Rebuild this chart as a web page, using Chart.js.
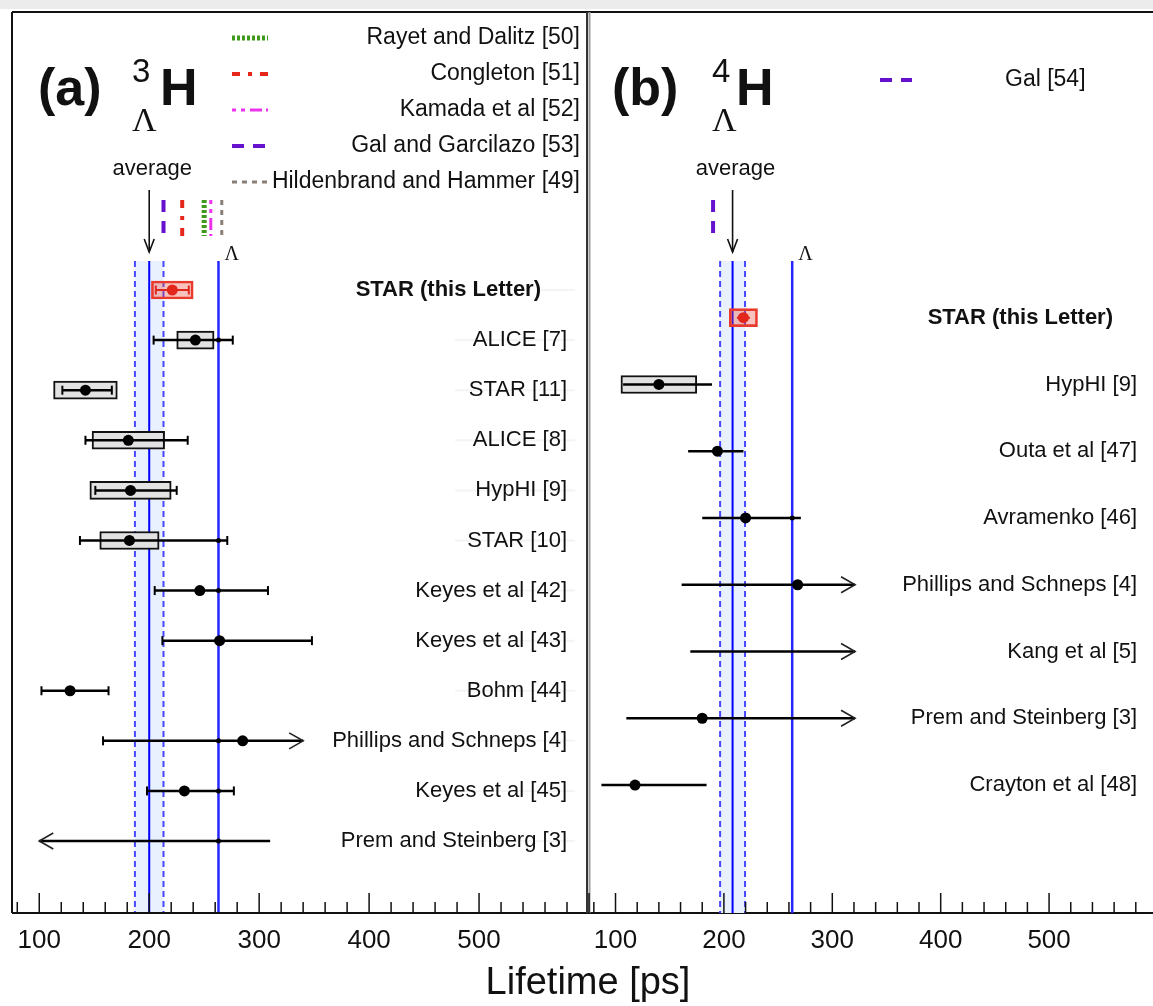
<!DOCTYPE html>
<html>
<head>
<meta charset="utf-8">
<script src="https://cdn.jsdelivr.net/npm/chart.js@4.4.1/dist/chart.umd.min.js"></script>
<style>
  body { margin: 0; background: #fff; width: 1153px; height: 1006px; overflow: hidden; position: relative; }
  canvas { position: absolute; top: 0; }
  #pa { left: 0; }
  #pb { left: 584px; }
</style>
</head>
<body>
<canvas id="pa" width="1153" height="1006"></canvas>
<canvas id="pb" width="569" height="1006"></canvas>
<script>
// free Lambda lifetime (ps)
const lambdaTau = 263;
const tickLabels = [100, 200, 300, 400, 500];

// (a) hypertriton lifetimes [ps]
const labelsA = ['STAR (this Letter)', 'ALICE [7]', 'STAR [11]', 'ALICE [8]', 'HypHI [9]', 'STAR [10]',
  'Keyes et al [42]', 'Keyes et al [43]', 'Bohm [44]', 'Phillips and Schneps [4]', 'Keyes et al [45]', 'Prem and Steinberg [3]'];
const tauA    = [221, 242, 142, 181, 183, 182, 246, 264, 128, 285, 232, null];
const statLoA = [206, 204, 121, 142, 151, 137, 205, 212, 102, 158, 198, 100];
const statHiA = [236, 276, 166, 235, 225, 271, 308, 348, 163, 340, 277, 310];
const sysLoA  = [202, 225, 113, 148, 146, 155, null, null, null, null, null, null];
const sysHiA  = [240, 259, 171, 214, 220, 209, null, null, null, null, null, null];
const arrowA  = ['', '', '', '', '', '', '', '', '', 'hi', '', 'lo'];
const capsA   = [1, 1, 1, 1, 1, 1, 1, 1, 1, 1, 1, 0];
const lambdaDotRowsA = [1, 5, 6, 9, 10, 11];
const averageA = 200, averageErrA = 13;
const theoryNamesA = ['Rayet and Dalitz [50]', 'Congleton [51]', 'Kamada et al [52]', 'Gal and Garcilazo [53]', 'Hildenbrand and Hammer [49]'];
const theoryTauA = [250, 230, 256, 213, 266];

// (b) 4ΛH lifetimes [ps]
const labelsB = ['STAR (this Letter)', 'HypHI [9]', 'Outa et al [47]', 'Avramenko [46]',
  'Phillips and Schneps [4]', 'Kang et al [5]', 'Prem and Steinberg [3]', 'Crayton et al [48]'];
const tauB    = [218, 140, 194, 220, 268, null, 180, 118];
const statLoB = [212, 107, 167, 180, 161, 169, 110, 87];
const statHiB = [224, 189, 218, 271, 321, 321, 321, 184];
const sysLoB  = [205, 105, null, null, null, null, null, null];
const sysHiB  = [231, 175, null, null, null, null, null, null];
const arrowB  = ['', '', '', '', 'hi', 'hi', 'hi', ''];
const capsB   = [0, 0, 0, 0, 0, 0, 0, 0];
const lambdaDotRowsB = [3];
const averageB = 208, averageErrB = 11.5;
const theoryNamesB = ['Gal [54]'];
const theoryTauB = [190];

const FONT = "'Liberation Sans', Arial, Helvetica, sans-serif";
const SERIF = "'Liberation Serif', 'Times New Roman', serif";

const theoryStyleA = [
  { color: '#3f9a1c', width: 5, dash: [3, 2] },
  { color: '#e5261b', width: 4, dash: [8, 8, 4, 8] },
  { color: '#ee33ee', width: 3, dash: [4, 5, 4, 5, 12, 4] },
  { color: '#6611cc', width: 4, dash: [12, 9] },
  { color: '#8a7f76', width: 3, dash: [5, 5] }
];
const theoryStyleB = [{ color: '#6611cc', width: 4, dash: [12, 9] }];

function vline(ctx, x, y0, y1) {
  ctx.beginPath(); ctx.moveTo(x, y0); ctx.lineTo(x, y1); ctx.stroke();
}
function hline(ctx, x0, x1, y) {
  ctx.beginPath(); ctx.moveTo(x0, y); ctx.lineTo(x1, y); ctx.stroke();
}

function panelPlugin(p) {
  return {
    id: 'panel_' + p.id,
    beforeDraw(chart) {
      if (!p.outerFrame) return;
      const ctx = chart.ctx;
      ctx.save();
      ctx.fillStyle = '#ececec';
      ctx.fillRect(0, 0, chart.width, 9);
      ctx.restore();
    },
    beforeDatasetsDraw(chart) {
      const { ctx, chartArea: a, scales: { x } } = chart;
      const top = 261;
      const xl = x.getPixelForValue(p.avg - p.avgErr), xh = x.getPixelForValue(p.avg + p.avgErr);
      ctx.save();
      ctx.fillStyle = '#e8f1fd';
      ctx.fillRect(xl, top, xh - xl, a.bottom - top);
      ctx.strokeStyle = '#4747ff'; ctx.lineWidth = 2; ctx.setLineDash([6, 4]);
      vline(ctx, xl, top, a.bottom); vline(ctx, xh, top, a.bottom);
      ctx.setLineDash([]);
      ctx.strokeStyle = '#0000ff'; ctx.lineWidth = 2;
      vline(ctx, x.getPixelForValue(p.avg), top, a.bottom);
      ctx.strokeStyle = '#2626ff'; ctx.lineWidth = 2.5;
      vline(ctx, x.getPixelForValue(lambdaTau), top, a.bottom);
      ctx.restore();
    },
    afterDatasetsDraw(chart) {
      const { ctx, scales: { x, y } } = chart;
      ctx.save();
      ctx.strokeStyle = '#222'; ctx.lineWidth = 1.6;
      p.arrows.forEach((dir, i) => {
        if (!dir) return;
        const yy = y.getPixelForValue(i);
        const tip = x.getPixelForValue(dir === 'hi' ? p.hi[i] : p.lo[i]);
        const s = dir === 'hi' ? -1 : 1;
        ctx.beginPath();
        ctx.moveTo(tip + s * 14, yy - 8); ctx.lineTo(tip, yy); ctx.lineTo(tip + s * 14, yy + 8);
        ctx.stroke();
      });
      ctx.restore();
    },
    afterDraw(chart) {
      const { ctx, chartArea: a, scales: { x, y } } = chart;
      ctx.save();
      // frame and axis
      ctx.strokeStyle = '#111'; ctx.lineWidth = 2;
      if (p.outerFrame) {
        hline(ctx, 12, chart.width, 12);
        vline(ctx, 12, 12, 913);
        hline(ctx, 12, chart.width, 913);
        ctx.strokeStyle = '#333';
        vline(ctx, 587, 12, 913);
        ctx.strokeStyle = '#9a9a9a';
        vline(ctx, 589.5, 12, 913);
      }
      // tick marks pointing up from the axis
      ctx.strokeStyle = '#111'; ctx.lineWidth = 1.5;
      for (let v = 80; v <= p.tickMax; v += 20) {
        const px = x.getPixelForValue(v);
        vline(ctx, px, a.bottom, a.bottom - (v % 100 === 0 ? 20 : 11));
      }
      ctx.fillStyle = '#111';
      ctx.font = `26px ${FONT}`;
      ctx.textAlign = 'center'; ctx.textBaseline = 'middle';
      tickLabels.forEach(t => ctx.fillText(String(t), x.getPixelForValue(t), 941));
      if (p.outerFrame) {
        ctx.font = `38px ${FONT}`;
        ctx.fillText('Lifetime [ps]', 588, 984);
      }

      // row labels
      ctx.textAlign = 'right';
      p.labels.forEach((lab, i) => {
        const yy = y.getPixelForValue(i);
        if (p.rowLines) {
          ctx.strokeStyle = '#f4f4f4'; ctx.lineWidth = 2;
          hline(ctx, i === 0 ? 541 : 455, 575, yy);
        }
        ctx.fillStyle = '#111';
        ctx.font = i === 0 ? `bold 22px ${FONT}` : `22px ${FONT}`;
        ctx.fillText(lab, i === 0 ? p.boldRight : p.labelRight, yy);
      });

      // panel title
      ctx.textAlign = 'left'; ctx.textBaseline = 'alphabetic';
      ctx.font = `bold 52px ${FONT}`;
      ctx.fillText(p.tag, p.titleX, 105);
      ctx.fillText('H', p.titleX + p.hOffset, 105);
      ctx.font = `33px ${FONT}`;
      ctx.fillText(p.massNumber, p.titleX + p.supOffset, 82);
      ctx.font = `34px ${SERIF}`;
      ctx.fillText('Λ', p.titleX + p.supOffset, 131);

      // average arrow
      const xa = x.getPixelForValue(p.avg);
      ctx.font = `22px ${FONT}`; ctx.textAlign = 'center'; ctx.textBaseline = 'middle';
      ctx.fillText('average', xa + 3, 169);
      ctx.strokeStyle = '#111'; ctx.lineWidth = 1.6;
      vline(ctx, xa, 190, 252);
      ctx.beginPath(); ctx.moveTo(xa - 5, 239); ctx.lineTo(xa, 252); ctx.lineTo(xa + 5, 239); ctx.stroke();

      // Lambda label
      ctx.font = `20px ${SERIF}`; ctx.textAlign = 'left'; ctx.textBaseline = 'alphabetic';
      ctx.fillText('Λ', x.getPixelForValue(lambdaTau) + 6, 260);

      // theory predictions and their legend
      p.theoryTau.forEach((t, i) => {
        const st = p.theoryStyle[i];
        ctx.strokeStyle = st.color; ctx.lineWidth = st.width; ctx.setLineDash(st.dash);
        vline(ctx, x.getPixelForValue(t), 200, 236);
        const ly = p.legendY[i];
        hline(ctx, p.legendX0, p.legendX1, ly);
        ctx.setLineDash([]);
        ctx.fillStyle = '#111'; ctx.font = `23px ${FONT}`;
        ctx.textBaseline = 'middle';
        ctx.textAlign = p.legendAlign;
        ctx.fillText(p.theoryNames[i], p.legendTextX, ly);
      });
      ctx.restore();
    }
  };
}

function makePanel(p) {
  const datasets = [];
  // systematic uncertainty boxes
  const boxData = [], boxFill = [], boxEdge = [];
  p.sysLo.forEach((lo, i) => {
    if (lo == null) return;
    boxData.push({ y: i, x: [lo, p.sysHi[i]] });
    boxFill.push(i === 0 ? 'rgba(235,70,55,0.33)' : '#e2e2e2');
    boxEdge.push(i === 0 ? '#e8392c' : '#111');
  });
  datasets.push({
    type: 'bar', indexAxis: 'y', order: 3, data: boxData,
    backgroundColor: boxFill, borderColor: boxEdge, borderWidth: 2,
    borderSkipped: false, barThickness: 18
  });
  // statistical uncertainties
  p.lo.forEach((lo, i) => {
    const red = i === 0, col = red ? '#e0281c' : '#000';
    const capLo = p.caps[i] && p.arrows[i] !== 'lo' ? 4.5 : 0;
    const capHi = p.caps[i] && p.arrows[i] !== 'hi' ? 4.5 : 0;
    datasets.push({
      type: 'line', order: 2, data: [{ x: lo, y: i }, { x: p.hi[i], y: i }],
      borderColor: col, borderWidth: red ? 2 : 2.5,
      pointStyle: 'line', pointRotation: 90, pointRadius: [capLo, capHi],
      pointBorderColor: col, pointBorderWidth: 2
    });
  });
  // crossings with the free Lambda line
  datasets.push({
    type: 'line', order: 1, showLine: false,
    data: p.lambdaRows.map(r => ({ x: lambdaTau, y: r })),
    pointRadius: 2.5, pointBackgroundColor: '#000', pointBorderWidth: 0
  });
  // central values
  const pts = [], ptCol = [];
  p.tau.forEach((t, i) => {
    if (t == null) return;
    pts.push({ x: t, y: i });
    ptCol.push(i === 0 ? '#e3261b' : '#000');
  });
  datasets.push({
    type: 'line', order: 0, showLine: false, data: pts,
    pointRadius: 5.5, pointBackgroundColor: ptCol, pointBorderColor: ptCol, pointBorderWidth: 0
  });

  return new Chart(document.getElementById(p.canvas), {
    type: 'line',
    data: { datasets },
    options: {
      responsive: false, animation: false, devicePixelRatio: 1, events: [],
      layout: { padding: p.pad },
      plugins: { legend: { display: false }, tooltip: { enabled: false } },
      scales: {
        x: { type: 'linear', min: p.xMin, max: p.xMax, offset: false, display: false },
        y: { type: 'linear', min: p.yMin, max: p.yMax, reverse: true, offset: false, display: false }
      }
    },
    plugins: [panelPlugin(p)]
  });
}

makePanel({
  id: 'a', canvas: 'pa', outerFrame: true, rowLines: true,
  labels: labelsA, tau: tauA, lo: statLoA, hi: statHiA, sysLo: sysLoA, sysHi: sysHiA,
  arrows: arrowA, caps: capsA, lambdaRows: lambdaDotRowsA,
  avg: averageA, avgErr: averageErrA,
  theoryNames: theoryNamesA, theoryTau: theoryTauA, theoryStyle: theoryStyleA,
  xMin: 75.2, xMax: 600, yMin: -5.55, yMax: 12.437, tickMax: 600,
  pad: { left: 12, right: 1153 - 589, top: 12, bottom: 93 },
  labelRight: 567, boldRight: 541,
  tag: '(a)', massNumber: '3', titleX: 38, hOffset: 122, supOffset: 94,
  legendY: [38, 74, 110, 146, 182], legendX0: 232, legendX1: 268, legendTextX: 580, legendAlign: 'right'
});

makePanel({
  id: 'b', canvas: 'pb', outerFrame: false, rowLines: false,
  labels: labelsB, tau: tauB, lo: statLoB, hi: statHiB, sysLo: sysLoB, sysHi: sysHiB,
  arrows: arrowB, caps: capsB, lambdaRows: lambdaDotRowsB,
  avg: averageB, avgErr: averageErrB,
  theoryNames: theoryNamesB, theoryTau: theoryTauB, theoryStyle: theoryStyleB,
  xMin: 76, xMax: 590.8, yMin: -4.579, yMax: 8.917, tickMax: 580,
  pad: { left: 3, right: 0, top: 12, bottom: 93 },
  labelRight: 553, boldRight: 529,
  tag: '(b)', massNumber: '4', titleX: 28, hOffset: 124, supOffset: 100,
  legendY: [80], legendX0: 296, legendX1: 328, legendTextX: 421, legendAlign: 'left'
});
</script>
</body>
</html>
